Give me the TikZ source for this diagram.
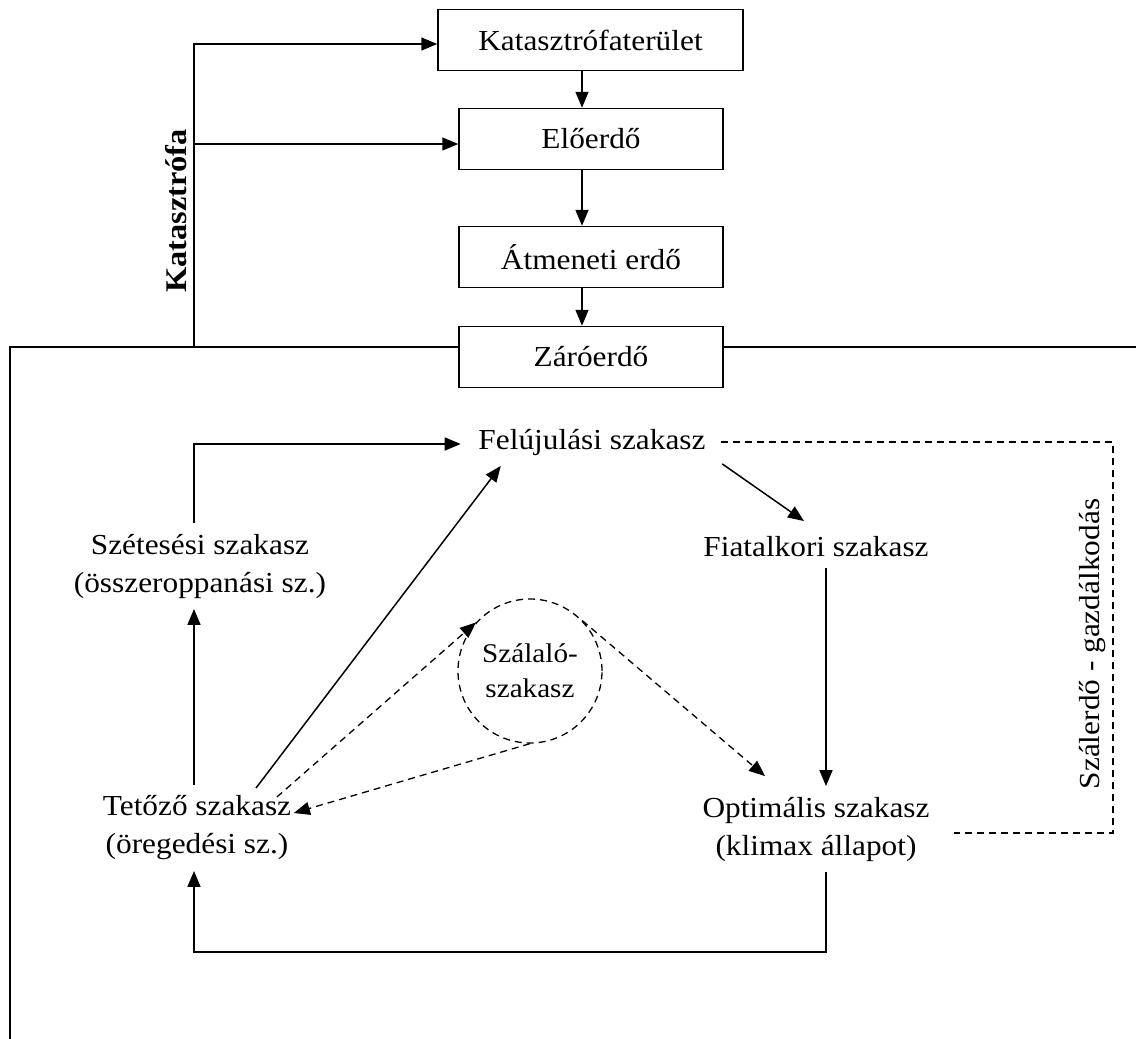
\documentclass[tikz,border=0pt]{standalone}
\usepackage{fontspec}
\setmainfont{Liberation Serif}[FakeStretch=1.08]
\usetikzlibrary{arrows.meta,calc}
\begin{document}
\begin{tikzpicture}[x=1pt,y=-1pt, line width=1.5pt,
  font=\fontsize{29}{38}\selectfont,
  arr/.style={-{Triangle[length=16pt,width=13pt]}},
  boxnode/.style={draw, fill=white, minimum height=61pt, inner sep=0pt},
  lbl/.style={align=center, inner xsep=1pt, inner ysep=10pt},
  dsh/.style={line width=1.3pt, dash pattern=on 7pt off 5pt}]
\useasboundingbox (0,0) rectangle (1136,1039);
% helper coordinates
\coordinate (ax) at (582,0);
\coordinate (lx) at (194,0);
\coordinate (vx) at (826,0);
\coordinate (bot) at (0,952);
\coordinate (lt) at (10,347);
\coordinate (rt) at (1136,347);
\coordinate (lb) at (10,1039);
\coordinate (dr) at (1113,0);
% frame line
\draw (lb) -- (lt) -- (rt);
% boxes
\node[boxnode, minimum width=305pt] (kt) at (590.5,40) {Katasztrófaterület};
\node[boxnode, minimum width=264pt] (eo) at (591,139) {Előerdő};
\node[boxnode, minimum width=264pt] (at) at (591,257) {Átmeneti erdő};
\node[boxnode, minimum width=264pt] (zo) at (591,357) {Záróerdő};
\draw[arr] (kt.south -| ax) -- (eo.north -| ax);
\draw[arr] (eo.south -| ax) -- (at.north -| ax);
\draw[arr] (at.south -| ax) -- (zo.north -| ax);
% catastrophe branch
\draw[arr] (lt -| lx) |- ($(kt.west)+(0,4)$);
\draw[arr] ($(lx |- eo.west)+(0,5)$) -- ($(eo.west)+(0,5)$);
\node[rotate=90, font=\fontsize{30}{36}\selectfont\bfseries] (katl) at (176,211) {Katasztrófa};
% cycle
\node[lbl] (fel) at (592,442) {Felújulási szakasz};
\node[lbl] (fia) at (816,547) {Fiatalkori szakasz};
\node[lbl] (sze) at (200,566) {Szétesési szakasz\\(összeroppanási sz.)};
\node[lbl] (tet) at (197,828) {Tetőző szakasz\\(öregedési sz.)};
\node[lbl] (opt) at (816,829) {Optimális szakasz\\(klimax állapot)};
\node[draw, circle, dsh, minimum size=144pt, inner sep=0pt, align=center,
      font=\fontsize{27}{35}\selectfont] (szal) at (530,671) {Szálaló-\\szakasz};
\draw[arr] (sze.north -| lx) |- ($(fel.west)+(-16,2)$);
\draw[arr] ($(fel.south east)+(15,-2)$) -- ($(fia.north)+(-12,-5)$);
\draw[arr] (fia.south -| vx) -- (opt.north -| vx);
\draw[arr] (opt.south -| vx) -- (vx |- bot) -- (lx |- bot) -- (tet.south -| lx);
\draw[arr] (tet.north -| lx) -- (sze.south -| lx);
\draw[arr] ($(tet.north)+(59,3)$) -- ($(fel.south west)+(24,0)$);
% selection cutting
\draw[dsh, arr] ($(tet.north east)+(-16,12)$) -- (szal.138);
\draw[dsh, arr] (szal.44) -- ($(opt.north)+(-51,-10)$);
\draw[dsh, arr] (szal.south) -- ($(tet.east)+(1,-15)$);
% selection forest management
\draw[dsh] ($(fel.east)+(14,0)$) -| ($(dr |- opt.east)+(0,4)$) -- ($(opt.east)+(23,4)$);
\node[rotate=90] (szl) at (1093,644) {Szálerdő - gazdálkodás};
\end{tikzpicture}
\end{document}
